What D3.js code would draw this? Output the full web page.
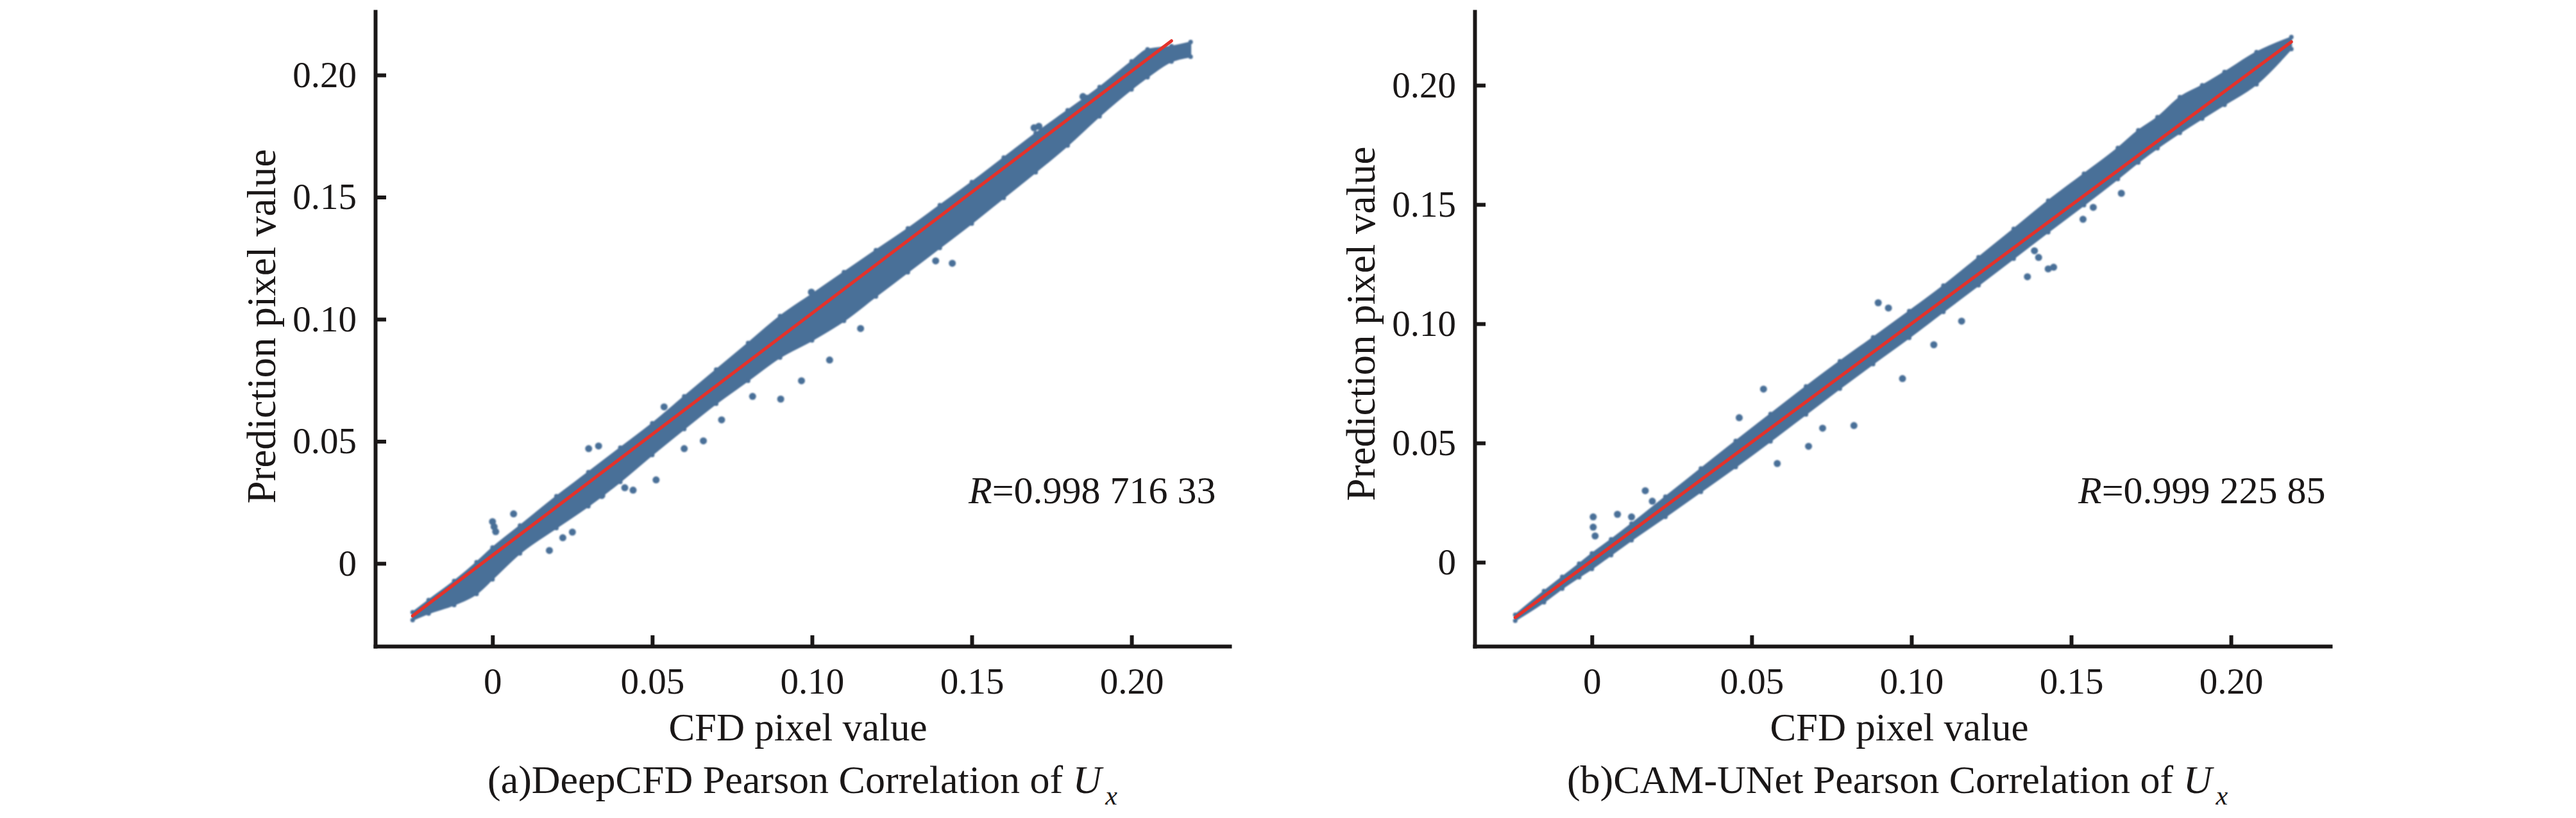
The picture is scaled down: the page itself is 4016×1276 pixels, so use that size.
<!DOCTYPE html>
<html>
<head>
<meta charset="utf-8">
<script src="https://cdn.jsdelivr.net/npm/d3@7"></script>
<style>
  body { margin: 0; background: #fff; }
  text { font-family: "Liberation Serif", "DejaVu Serif", serif; fill: #1a1717; }
</style>
</head>
<body>
<svg id="chart" width="4016" height="1276"></svg>
<script>
// tick values shared by both panels
const tickValues = [0, 0.05, 0.10, 0.15, 0.20];

// (a) DeepCFD: band of points (CFD value, upper / lower prediction edge)
const cfdA   = [-0.025, -0.020, -0.012, -0.005, 0.000, 0.0086, 0.020, 0.030, 0.040, 0.050, 0.060, 0.070, 0.080, 0.090, 0.100, 0.110, 0.120, 0.130, 0.140, 0.150, 0.160, 0.170, 0.180, 0.190, 0.200, 0.205, 0.2125, 0.2185];
const upperA = [-0.0200, -0.0150, -0.0072, 0.0005, 0.0065, 0.0155, 0.0275, 0.0374, 0.0474, 0.0574, 0.0684, 0.0794, 0.0903, 0.1013, 0.1103, 0.1193, 0.1283, 0.1372, 0.1467, 0.1562, 0.1662, 0.1762, 0.1856, 0.1951, 0.2056, 0.2105, 0.2118, 0.2135];
const lowerA = [-0.0232, -0.0205, -0.0170, -0.0125, -0.0065, 0.0041, 0.0145, 0.0234, 0.0334, 0.0444, 0.0550, 0.0654, 0.0748, 0.0843, 0.0913, 0.0993, 0.1093, 0.1192, 0.1292, 0.1392, 0.1497, 0.1602, 0.1711, 0.1831, 0.1941, 0.1991, 0.2055, 0.2075];
const outXA  = [0.0000, 0.0066, 0.0178, 0.0250, 0.0301, 0.0332, 0.0342, 0.0414, 0.0512, 0.0537, 0.0660, 0.0717, 0.0814, 0.0902, 0.0967, 0.0998, 0.1055, 0.1152, 0.1387, 0.1439, 0.1695, 0.1710, 0.1848, 0.1860, 0.0005, 0.0010, 0.0220, 0.0440, 0.0600];
const outYA  = [0.0171, 0.0203, 0.0053, 0.0128, 0.0470, 0.0481, 0.0278, 0.0310, 0.0342, 0.0641, 0.0502, 0.0588, 0.0684, 0.0673, 0.0748, 0.1111, 0.0833, 0.0962, 0.1239, 0.1229, 0.1784, 0.1790, 0.1912, 0.1905, 0.0150, 0.0130, 0.0105, 0.0300, 0.0470];
const fitXA  = [-0.025, 0.2125];
const fitYA  = [-0.0215, 0.2140];

// (b) CAM-UNet
const cfdB   = [-0.024, -0.015, -0.0093, -0.004, 0.000, 0.006, 0.0124, 0.023, 0.0341, 0.045, 0.0559, 0.067, 0.0776, 0.088, 0.0993, 0.110, 0.121, 0.132, 0.1428, 0.154, 0.1646, 0.171, 0.177, 0.184, 0.191, 0.198, 0.208, 0.2189];
const upperB = [-0.0220, -0.0121, -0.0061, -0.0006, 0.0037, 0.0096, 0.0162, 0.0275, 0.0393, 0.0509, 0.0622, 0.0737, 0.0843, 0.0943, 0.1053, 0.1160, 0.1279, 0.1398, 0.1516, 0.1629, 0.1737, 0.1811, 0.1866, 0.1950, 0.2000, 0.2056, 0.2139, 0.2202];
const lowerB = [-0.0245, -0.0168, -0.0111, -0.0063, -0.0028, 0.0030, 0.0092, 0.0190, 0.0295, 0.0399, 0.0507, 0.0620, 0.0728, 0.0831, 0.0941, 0.1050, 0.1161, 0.1273, 0.1384, 0.1497, 0.1607, 0.1676, 0.1736, 0.1800, 0.1860, 0.1918, 0.2004, 0.2152];
const outXB  = [0.0896, 0.0928, 0.0972, 0.1363, 0.1428, 0.1385, 0.1537, 0.1657, 0.1157, 0.1070, 0.0722, 0.0820, 0.0678, 0.0580, 0.0537, 0.0461, 0.0167, 0.0189, 0.0080, 0.0124, 0.0004, 0.0004, 0.0010, 0.1569, 0.1398, 0.1445];
const outYB  = [0.1088, 0.1066, 0.0770, 0.1197, 0.1230, 0.1306, 0.1438, 0.1547, 0.1011, 0.0912, 0.0562, 0.0573, 0.0486, 0.0414, 0.0726, 0.0606, 0.0300, 0.0256, 0.0201, 0.0190, 0.0190, 0.0147, 0.0110, 0.1488, 0.1278, 0.1237];
const fitXB  = [-0.024, 0.2189];
const fitYB  = [-0.0232, 0.2182];

const pointColor = "#4a6f98";
const fitColor = "#e3322b";
const inkColor = "#1a1717";

const svg = d3.select("#chart");

const defs = svg.append("defs");
defs.append("filter").attr("id", "soft")
	.append("feGaussianBlur").attr("stdDeviation", 1.3);

function fmtTick(d){
	return d === 0 ? "0" : d3.format(".2f")(d);
}

function cfdToRows(xs, ups, los){
	return xs.map((v, i) => ({x: v, up: ups[i], lo: los[i]}));
}

function plot_scatter(opt){
	const xScale = d3.scaleLinear().domain(opt.xDomain).range(opt.xRange);
	const yScale = d3.scaleLinear().domain(opt.yDomain).range(opt.yRange);

	const g = svg.append("g");

	// scatter cloud
	const band = cfdToRows(opt.cfd, opt.upper, opt.lower);
	const cloud = g.append("g").attr("filter", "url(#soft)");

	const area = d3.area()
		.x(d => xScale(d.x))
		.y0(d => yScale(d.lo))
		.y1(d => yScale(d.up))
		.curve(d3.curveMonotoneX);

	cloud.append("path")
		.datum(band)
		.attr("d", area)
		.attr("fill", pointColor)
		.attr("stroke", pointColor)
		.attr("stroke-width", 2)
		.attr("stroke-linejoin", "round");

	// edge points give the band its dotted rim
	const edge = band.map(d => ({x: d.x, y: d.up})).concat(band.map(d => ({x: d.x, y: d.lo})));
	cloud.selectAll("circle.edge")
		.data(edge)
		.enter().append("circle")
		.attr("class", "edge")
		.attr("cx", d => xScale(d.x))
		.attr("cy", d => yScale(d.y))
		.attr("r", 3.5)
		.attr("fill", pointColor);

	const outliers = opt.outX.map((v, i) => ({x: v, y: opt.outY[i]}));
	cloud.selectAll("circle.out")
		.data(outliers)
		.enter().append("circle")
		.attr("class", "out")
		.attr("cx", d => xScale(d.x))
		.attr("cy", d => yScale(d.y))
		.attr("r", 5.5)
		.attr("fill", pointColor);

	// fitted line
	const fit = opt.fitX.map((v, i) => [v, opt.fitY[i]]);
	g.append("path")
		.datum(fit)
		.attr("d", d3.line().x(d => xScale(d[0])).y(d => yScale(d[1])))
		.attr("stroke", fitColor)
		.attr("stroke-width", 5)
		.attr("stroke-linecap", "round")
		.attr("fill", "none");

	// axes, ticks point inwards
	const xAxis = d3.axisBottom(xScale)
		.tickValues(tickValues)
		.tickFormat(fmtTick)
		.tickSizeInner(-17)
		.tickSizeOuter(0)
		.tickPadding(34);

	const yAxis = d3.axisLeft(yScale)
		.tickValues(tickValues)
		.tickFormat(fmtTick)
		.tickSizeInner(-17)
		.tickSizeOuter(0)
		.tickPadding(29);

	const gx = g.append("g")
		.attr("transform", "translate(0, " + opt.yRange[0] + ")")
		.call(xAxis);

	const gy = g.append("g")
		.attr("transform", "translate(" + opt.xRange[0] + ", 0)")
		.call(yAxis);

	[gx, gy].forEach(a => {
		a.select(".domain").attr("stroke", inkColor).attr("stroke-width", 6).attr("stroke-linecap", "square");
		a.selectAll(".tick line").attr("stroke", inkColor).attr("stroke-width", 6);
		a.selectAll(".tick text")
			.style("font-family", "'Liberation Serif', serif")
			.style("font-size", "57px")
			.attr("fill", inkColor);
	});

	// axis titles
	g.append("text")
		.attr("x", opt.xLabelX)
		.attr("y", 1155)
		.attr("text-anchor", "middle")
		.style("font-size", "61px")
		.text("CFD pixel value");

	g.append("text")
		.attr("transform", "translate(" + (opt.xRange[0] - 156) + "," + opt.yLabelY + ") rotate(-90)")
		.attr("text-anchor", "middle")
		.style("font-size", "63px")
		.text("Prediction pixel value");

	// correlation value
	const r = g.append("text")
		.attr("x", opt.rX)
		.attr("y", 785)
		.style("font-size", "60px");
	r.append("tspan").style("font-style", "italic").text("R");
	r.append("tspan").text("=" + opt.rText);

	// caption
	const cap = g.append("text")
		.attr("x", opt.capX)
		.attr("y", 1237)
		.attr("text-anchor", "middle")
		.style("font-size", "62px");
	cap.append("tspan").text(opt.caption + " ");
	cap.append("tspan").style("font-style", "italic").text("U");
	cap.append("tspan").style("font-style", "italic").style("font-size", "42px")
		.attr("dx", 6).attr("dy", 18).text("x");
}

plot_scatter({
	xDomain: [-0.0367, 0.2307], xRange: [585, 1917],
	yDomain: [-0.0339, 0.226], yRange: [1008, 18],
	cfd: cfdA, upper: upperA, lower: lowerA,
	outX: outXA, outY: outYA, fitX: fitXA, fitY: fitYA,
	xLabelX: 1244, yLabelY: 509, rX: 1510, rText: "0.998 716 33",
	capX: 1251, caption: "(a)DeepCFD Pearson Correlation of"
});

plot_scatter({
	xDomain: [-0.0367, 0.2311], xRange: [2299, 3633],
	yDomain: [-0.0352, 0.2309], yRange: [1008, 18],
	cfd: cfdB, upper: upperB, lower: lowerB,
	outX: outXB, outY: outYB, fitX: fitXB, fitY: fitYB,
	xLabelX: 2961, yLabelY: 505, rX: 3240, rText: "0.999 225 85",
	capX: 2958, caption: "(b)CAM-UNet Pearson Correlation of"
});
</script>
</body>
</html>
